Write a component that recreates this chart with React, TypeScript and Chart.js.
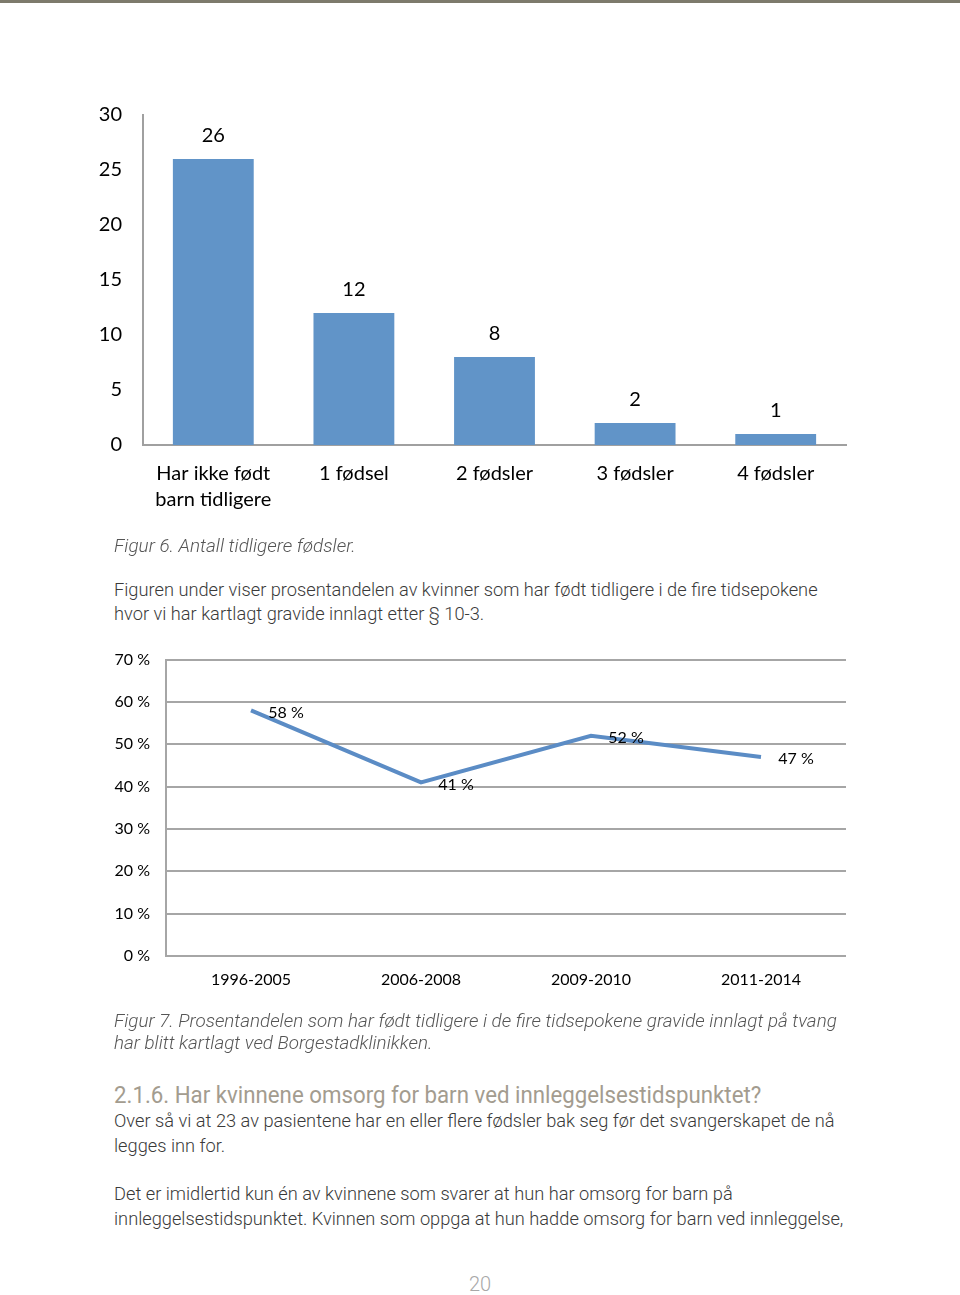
import React, { useEffect, useRef } from 'react';
import { Chart, registerables } from 'chart.js';

Chart.register(...registerables);

// ---- data ----
const birthCategories: (string | string[])[] = [
  ['Har ikke født', 'barn tidligere'],
  '1 fødsel',
  '2 fødsler',
  '3 fødsler',
  '4 fødsler',
];
const birthCounts = [26, 12, 8, 2, 1];
const countAxisMax = 30;
const countAxisStep = 5;

const periodCategories = ['1996-2005', '2006-2008', '2009-2010', '2011-2014'];
const periodShares = [58, 41, 52, 47];
const shareAxisMax = 70;
const shareAxisStep = 10;

const CHART_FONT = 'Lato, "Open Sans", sans-serif';
const TEXT_FONT = 'Roboto, "Noto Sans", sans-serif';

function makeLabelPlugin(font: string, dx: number, dy: number, fmt: (v: number) => string) {
  return {
    id: 'valueLabels',
    afterDatasetsDraw(chart: any) {
      const { ctx } = chart;
      const meta = chart.getDatasetMeta(0);
      const data = chart.data.datasets[0].data as number[];
      ctx.save();
      ctx.font = font;
      ctx.fillStyle = '#000';
      ctx.textAlign = 'center';
      ctx.textBaseline = 'middle';
      meta.data.forEach((el: any, i: number) => {
        ctx.fillText(fmt(data[i]), el.x + dx, el.y + dy);
      });
      ctx.restore();
    },
  };
}

function BarChart() {
  const ref = useRef<HTMLCanvasElement>(null);
  useEffect(() => {
    if (!ref.current) return;
    const chart = new Chart(ref.current, {
      type: 'bar',
      data: {
        labels: birthCategories,
        datasets: [
          {
            data: birthCounts,
            backgroundColor: '#6194c8',
            categoryPercentage: 1,
            barPercentage: 0.575,
          },
        ],
      },
      options: {
        animation: false,
        responsive: false,
        maintainAspectRatio: false,
        layout: { padding: { left: 0, right: 114, top: 0, bottom: 0 } },
        plugins: { legend: { display: false }, tooltip: { enabled: false } },
        scales: {
          x: {
            grid: { display: false, drawTicks: false },
            border: { display: true, color: '#a0a0a0', width: 2 },
            ticks: {
              color: '#000',
              font: { family: CHART_FONT, size: 20, lineHeight: 1.3 },
              padding: 16,
              maxRotation: 0,
              autoSkip: false,
            },
            afterFit(s: any) {
              s.height = 90;
            },
          },
          y: {
            min: 0,
            max: countAxisMax,
            ticks: {
              stepSize: countAxisStep,
              color: '#000',
              font: { family: CHART_FONT, size: 20 },
              padding: 21,
            },
            grid: { display: false, drawTicks: false },
            border: { display: true, color: '#a0a0a0', width: 2 },
            afterFit(s: any) {
              s.width = 143;
            },
          },
        },
      },
      plugins: [makeLabelPlugin(`20px ${CHART_FONT}`, 0, -23, (v) => String(v))],
    });
    return () => chart.destroy();
  }, []);
  return (
    <canvas
      ref={ref}
      width={960}
      height={453}
      style={{ position: 'absolute', left: 0, top: 82, width: 960, height: 453 }}
    />
  );
}

function LineChart() {
  const ref = useRef<HTMLCanvasElement>(null);
  useEffect(() => {
    if (!ref.current) return;
    const chart = new Chart(ref.current, {
      type: 'line',
      data: {
        labels: periodCategories,
        datasets: [
          {
            data: periodShares,
            borderColor: '#5b8cc5',
            borderWidth: 4,
            pointRadius: 0,
            fill: false,
            tension: 0,
          },
        ],
      },
      options: {
        animation: false,
        responsive: false,
        maintainAspectRatio: false,
        layout: { padding: { left: 0, right: 114, top: 0, bottom: 0 } },
        plugins: { legend: { display: false }, tooltip: { enabled: false } },
        scales: {
          x: {
            offset: true,
            grid: { display: false, drawTicks: false },
            border: { display: false },
            ticks: {
              color: '#000',
              font: { family: CHART_FONT, size: 16 },
              padding: 14,
              maxRotation: 0,
              autoSkip: false,
            },
            afterFit(s: any) {
              s.height = 54;
            },
          },
          y: {
            min: 0,
            max: shareAxisMax,
            ticks: {
              stepSize: shareAxisStep,
              color: '#000',
              font: { family: CHART_FONT, size: 16 },
              padding: 16,
              callback: (v: any) => `${v} %`,
            },
            grid: { color: '#a6a6a6', lineWidth: 2, drawTicks: false },
            border: { display: true, color: '#a6a6a6', width: 2 },
            afterFit(s: any) {
              s.width = 166;
            },
          },
        },
      },
      plugins: [makeLabelPlugin(`16px ${CHART_FONT}`, 35, 2, (v) => `${v} %`)],
    });
    return () => chart.destroy();
  }, []);
  return (
    <canvas
      ref={ref}
      width={960}
      height={376}
      style={{ position: 'absolute', left: 0, top: 634, width: 960, height: 376 }}
    />
  );
}

type LineProps = {
  cy: number;
  children: React.ReactNode;
  size?: number;
  color?: string;
  italic?: boolean;
  weight?: number;
  left?: number;
  sx?: number;
  center?: boolean;
};

function TextLine({ cy, children, size = 19, color = '#3a3a3a', italic, weight = 300, left = 114, sx = 0.96, center }: LineProps) {
  const lh = 24;
  return (
    <div
      style={{
        position: 'absolute',
        top: cy - lh / 2,
        left: center ? 0 : left,
        width: center ? 960 : undefined,
        textAlign: center ? 'center' : 'left',
        fontFamily: TEXT_FONT,
        fontSize: size,
        lineHeight: `${lh}px`,
        fontWeight: weight,
        fontStyle: italic ? 'italic' : 'normal',
        color,
        whiteSpace: 'nowrap',
        transform: center ? undefined : `scaleX(${sx})`,
        transformOrigin: 'left center',
      }}
    >
      {children}
    </div>
  );
}

export default function App() {
  return (
    <div
      style={{
        position: 'absolute',
        left: 0,
        top: 0,
        width: 960,
        height: 1295,
        background: '#fff',
        overflow: 'hidden',
      }}
    >
      <div style={{ position: 'absolute', left: 0, top: 0, width: 960, height: 3, background: '#7d7a6c' }} />
      <BarChart />
      <TextLine cy={546} italic color="#555" sx={0.995}>Figur 6. Antall tidligere fødsler.</TextLine>
      <TextLine cy={590}>Figuren under viser prosentandelen av kvinner som har født tidligere i de fire tidsepokene</TextLine>
      <TextLine cy={614}>hvor vi har kartlagt gravide innlagt etter § 10-3.</TextLine>
      <LineChart />
      <TextLine cy={1021} italic color="#555" sx={0.99}>Figur 7. Prosentandelen som har født tidligere i de fire tidsepokene gravide innlagt på tvang</TextLine>
      <TextLine cy={1043} italic color="#555" sx={0.99}>har blitt kartlagt ved Borgestadklinikken.</TextLine>
      <TextLine cy={1096} size={23} color="#a39c8f" weight={400} sx={0.968}>2.1.6. Har kvinnene omsorg for barn ved innleggelsestidspunktet?</TextLine>
      <TextLine cy={1121}>Over så vi at 23 av pasientene har en eller flere fødsler bak seg før det svangerskapet de nå</TextLine>
      <TextLine cy={1146}>legges inn for.</TextLine>
      <TextLine cy={1194}>Det er imidlertid kun én av kvinnene som svarer at hun har omsorg for barn på</TextLine>
      <TextLine cy={1219}>innleggelsestidspunktet. Kvinnen som oppga at hun hadde omsorg for barn ved innleggelse,</TextLine>
      <TextLine cy={1284} size={20} color="#a8a8a8" center>20</TextLine>
    </div>
  );
}
